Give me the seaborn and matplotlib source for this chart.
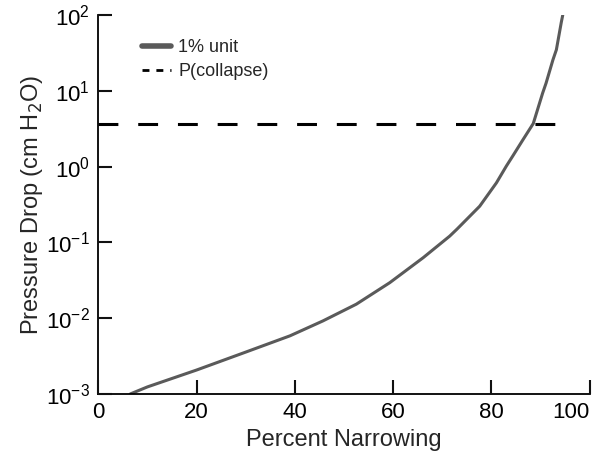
import matplotlib
matplotlib.use('Agg')
import matplotlib.pyplot as plt
from matplotlib.lines import Line2D
from matplotlib.ticker import LogLocator, NullLocator
import seaborn as sns
import pandas as pd

# values
narrowing = [6.5, 10, 20, 30, 39, 45.7, 52.5, 59.3, 66.1, 71.5, 73, 77.6,
             81, 83.0, 84.3, 86.4, 88.5, 90.4, 91.1, 92.5, 93.2, 94.2, 94.5]
pressure_drop = [1.0e-3, 1.24e-3, 2.07e-3, 3.57e-3, 5.85e-3, 9.2e-3, 0.0153,
                 0.0294, 0.0628, 0.121, 0.15, 0.30, 0.61, 1.01, 1.37, 2.26,
                 3.7, 9.3, 12.6, 25.6, 34.8, 80, 100]
collapse_x = [0, 94.5]
collapse_p = [3.7, 3.7]
labels = ['1% unit', 'P(collapse)']
x_ticks = [0, 20, 40, 60, 80, 100]

CURVE_COLOR = '#5a5a5a'

sns.set_theme(style='ticks')
plt.rcParams['font.family'] = ['Liberation Sans', 'DejaVu Sans']
plt.rcParams['axes.unicode_minus'] = False


def main():
    fig = plt.figure(figsize=(6, 4.54), dpi=100)
    ax = fig.add_axes([0.1638, 0.1322, 0.8192, 0.8348])
    ax.set_axisbelow(False)

    df = pd.DataFrame({'x': narrowing, 'y': pressure_drop})
    sns.lineplot(data=df, x='x', y='y', ax=ax, color=CURVE_COLOR, lw=2.2)

    dash = pd.DataFrame({'x': collapse_x, 'y': collapse_p})
    sns.lineplot(data=dash, x='x', y='y', ax=ax, color='black', lw=2.2,
                 linestyle=(0, (6.5, 6.5)))

    ax.set_yscale('log')
    ax.set_xlim(0, 100)
    ax.set_ylim(1e-3, 1e2)
    ax.set_xticks(x_ticks)
    ax.yaxis.set_major_locator(LogLocator(base=10, numticks=10))
    ax.yaxis.set_minor_locator(NullLocator())

    ax.spines['top'].set_visible(False)
    ax.spines['right'].set_visible(False)
    for side in ['left', 'bottom']:
        ax.spines[side].set_color('black')
        ax.spines[side].set_linewidth(1.3)
    ax.tick_params(which='major', labelcolor='black', labelsize=16, pad=6,
                   bottom=True, left=True, top=False, right=False)
    ax.tick_params(axis='x', direction='in', color='#111111', length=10,
                   width=1.5)
    ax.tick_params(axis='y', direction='in', color='#111111', length=10,
                   width=1.5)
    ax.get_xticklabels()[-1].set_ha('right')

    ax.set_xlabel('Percent Narrowing', fontsize=17, labelpad=4)
    ax.set_ylabel('Pressure Drop (cm H$_2$O)', fontsize=17, labelpad=1)

    handles = [Line2D([], [], color=CURVE_COLOR, lw=4),
               Line2D([], [], color='black', lw=2, linestyle=(0, (2.5, 2.5)))]
    ax.legend(handles, labels, loc='upper left', bbox_to_anchor=(0.075, 0.955),
              frameon=False, fontsize=13, handlelength=1.6,
              handletextpad=0.4, labelspacing=0.4, borderaxespad=0)

    fig.savefig('out.png', dpi=100)


if __name__ == "__main__":
    main()
